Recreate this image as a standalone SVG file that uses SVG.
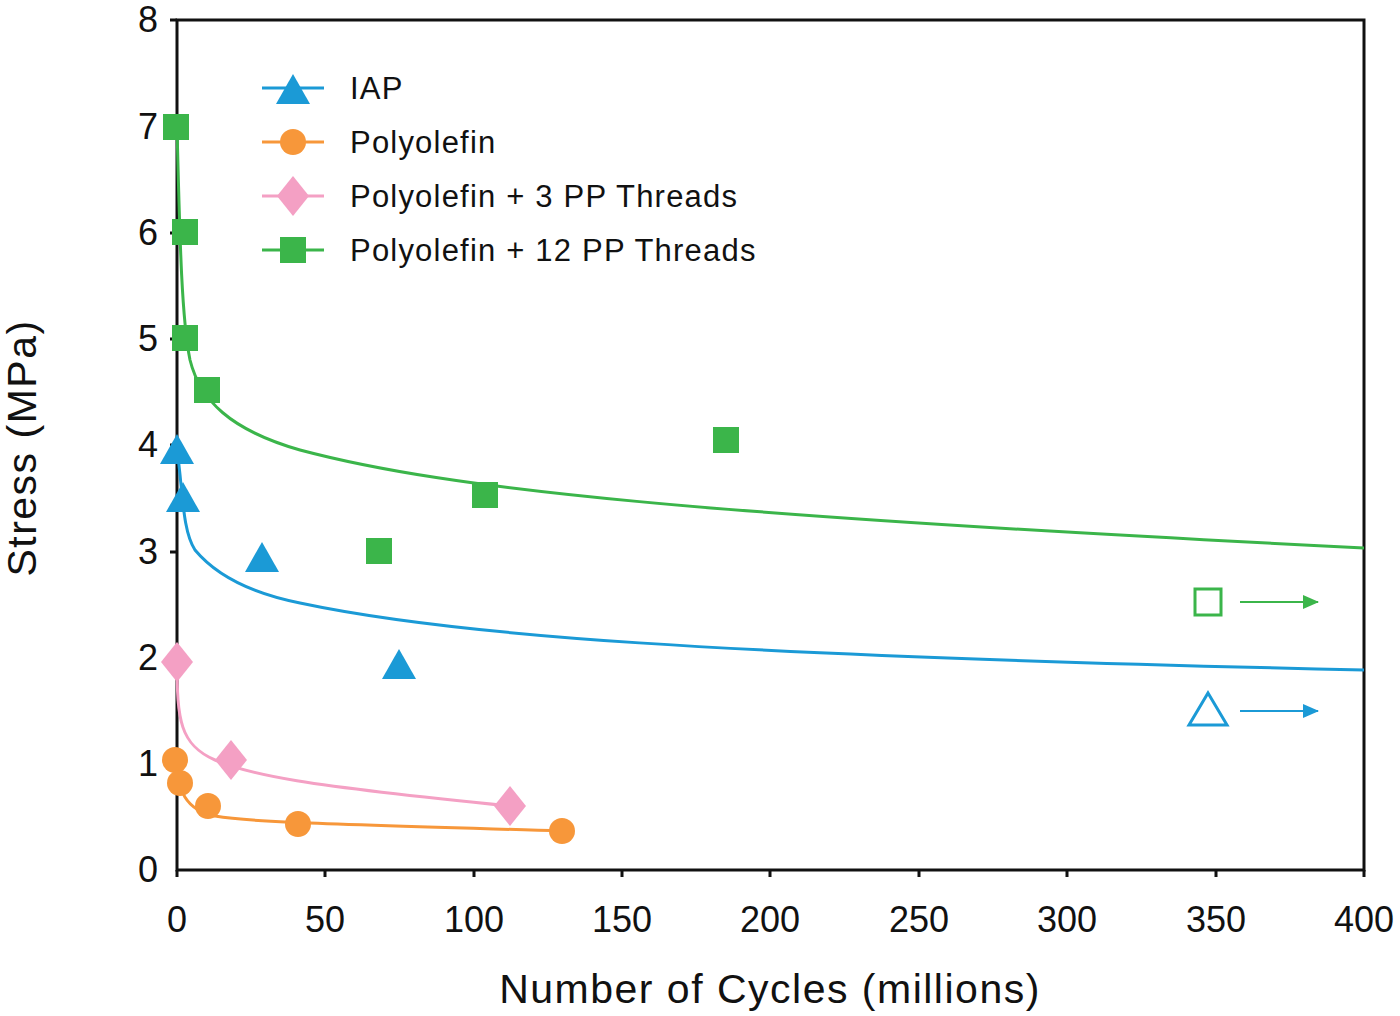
<svg xmlns="http://www.w3.org/2000/svg" width="1400" height="1016" viewBox="0 0 1400 1016">
<style>
text{font-family:"Liberation Sans",Arial,sans-serif;font-size:36px;fill:#111}
.lg{font-size:31px;letter-spacing:1.2px}
.g{fill:#3bb54a}.b{fill:#1b9ad6}.p{fill:#f4a0c4}.o{fill:#f7973a}
.cg{fill:none;stroke:#3bb54a;stroke-width:3}.cb{fill:none;stroke:#1b9ad6;stroke-width:3}
.cp{fill:none;stroke:#f4a0c4;stroke-width:3}.co{fill:none;stroke:#f7973a;stroke-width:3}
</style>
<defs>
<rect id="sq" x="-13" y="-13" width="26" height="26"/>
<path id="tri" d="M0,-18 L17,12 L-17,12Z"/>
<path id="dia" d="M0,-20 L16,0 L0,20 L-16,0Z"/>
<circle id="ci" r="13"/>
<marker id="ag" markerWidth="16" markerHeight="14" refX="15" refY="7" orient="auto" markerUnits="userSpaceOnUse" viewBox="0 0 16 14"><path d="M0,0L16,7L0,14Z" fill="#3bb54a"/></marker>
<marker id="ab" markerWidth="16" markerHeight="14" refX="15" refY="7" orient="auto" markerUnits="userSpaceOnUse" viewBox="0 0 16 14"><path d="M0,0L16,7L0,14Z" fill="#1b9ad6"/></marker>
</defs>
<g id="axes" stroke="#111" stroke-width="3" fill="none">
<rect x="177" y="20" width="1187" height="850"/>
<path d="M170,20H177M170,127H177M170,233H177M170,339H177M170,445H177M170,552H177M170,658H177M170,764H177M177,870V877M325,870V877M474,870V877M622,870V877M770,870V877M919,870V877M1067,870V877M1216,870V877M1364,870V877"/>
</g>
<g id="ylabels" text-anchor="end">
<text x="158" y="882">0</text><text x="158" y="776">1</text><text x="158" y="670">2</text><text x="158" y="564">3</text><text x="158" y="457">4</text><text x="158" y="351">5</text><text x="158" y="245">6</text><text x="158" y="139">7</text><text x="158" y="32">8</text>
</g>
<g id="xlabels" text-anchor="middle">
<text x="177" y="932">0</text><text x="325" y="932">50</text><text x="474" y="932">100</text><text x="622" y="932">150</text><text x="770" y="932">200</text><text x="919" y="932">250</text><text x="1067" y="932">300</text><text x="1216" y="932">350</text><text x="1364" y="932">400</text>
</g>
<text x="770" y="1003" text-anchor="middle" style="font-size:41px;letter-spacing:1.5px">Number of Cycles (millions)</text>
<text transform="translate(36,448) rotate(-90)" text-anchor="middle" style="font-size:41px;letter-spacing:1.5px">Stress (MPa)</text>
<g id="connectors">
<path class="cg" d="M177,127 C180,250 182,320 190,360 C200,400 230,430 300,450 C450,490 700,515 1364,548"/>
<path class="cb" d="M177,450 C183,490 182,530 195,550 C220,580 260,595 300,603 C450,635 700,655 1364,670"/>
<path class="cp" d="M177,662 C177,720 180,745 215,760 C250,775 300,785 510,806"/>
<path class="co" d="M175,760 C178,790 185,810 215,816 C250,822 300,823 562,831"/>
<path stroke="#3bb54a" stroke-width="2" d="M1240,602H1318" marker-end="url(#ag)"/>
<path stroke="#1b9ad6" stroke-width="2" d="M1240,711H1318" marker-end="url(#ab)"/>
</g>
<g id="green" class="g">
<use href="#sq" x="176" y="127"/><use href="#sq" x="185" y="232"/><use href="#sq" x="185" y="338"/><use href="#sq" x="207" y="390"/><use href="#sq" x="726" y="440"/><use href="#sq" x="485" y="495"/><use href="#sq" x="379" y="551"/>
</g>
<g id="blue" class="b">
<use href="#tri" x="177" y="452"/><use href="#tri" x="183" y="500"/><use href="#tri" x="262" y="560"/><use href="#tri" x="399" y="667"/>
</g>
<g id="pink" class="p">
<use href="#dia" x="177" y="662"/><use href="#dia" x="231" y="760"/><use href="#dia" x="510" y="806"/>
</g>
<g id="orange" class="o">
<use href="#ci" x="175" y="760"/><use href="#ci" x="180" y="783"/><use href="#ci" x="208" y="806"/><use href="#ci" x="298" y="824"/><use href="#ci" x="562" y="831"/>
</g>
<g id="open-markers" fill="none" stroke-width="3">
<rect x="1195" y="589" width="26" height="26" stroke="#3bb54a"/>
<path d="M1208,693 L1227,725 L1189,725Z" stroke="#1b9ad6"/>
</g>
<g id="legend">
<path class="cb" d="M262,88H324"/><use href="#tri" x="293" y="92" class="b"/><text class="lg" x="350" y="99">IAP</text>
<path class="co" d="M262,142H324"/><use href="#ci" x="293" y="142" class="o"/><text class="lg" x="350" y="153">Polyolefin</text>
<path class="cp" d="M262,196H324"/><use href="#dia" x="293" y="196" class="p"/><text class="lg" x="350" y="207">Polyolefin + 3 PP Threads</text>
<path class="cg" d="M262,250H324"/><use href="#sq" x="293" y="250" class="g"/><text class="lg" x="350" y="261">Polyolefin + 12 PP Threads</text>
</g>
</svg>
